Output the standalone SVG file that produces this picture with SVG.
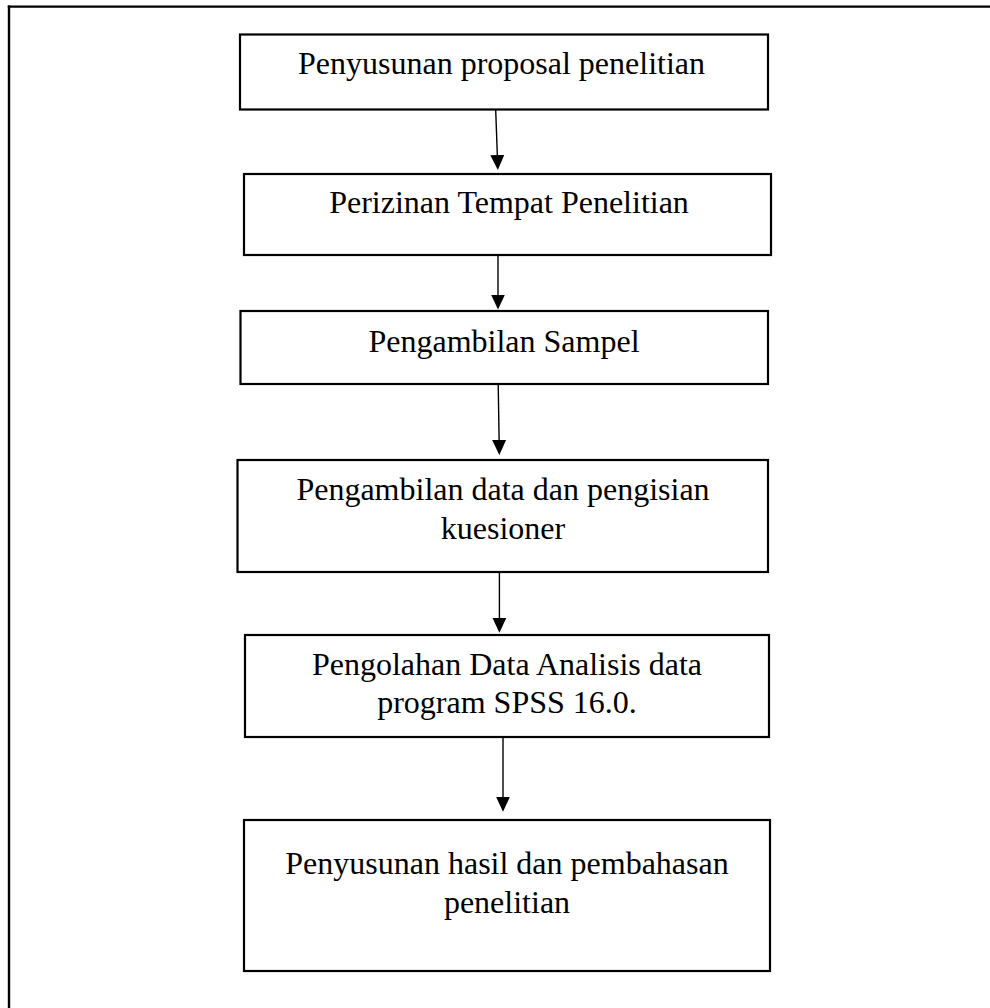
<svg xmlns="http://www.w3.org/2000/svg" width="990" height="1008" viewBox="0 0 990 1008">
<style>
.box{fill:#fff;stroke:#000;stroke-width:2.2}
.lbl{font-family:"Liberation Serif","Times New Roman",serif;font-size:32px;fill:#000;text-anchor:middle}
.conn{stroke:#000;stroke-width:1.4;fill:none}
.frame{stroke:#000;stroke-width:2.4;fill:none}
</style>
<defs>
<marker id="ah" markerUnits="userSpaceOnUse" markerWidth="16" markerHeight="16" refX="5" refY="7" orient="auto" viewBox="0 0 16 14">
<path d="M0,0 L15,7 L0,14 Z" fill="#000"/>
</marker>
</defs>
<rect width="990" height="1008" fill="#fff"/>
<g id="frame">
<line class="frame" x1="7.8" y1="6.6" x2="990" y2="6.6"/>
<line class="frame" x1="9" y1="5.4" x2="9" y2="1008"/>
</g>
<g id="connectors">
<line class="conn" x1="495.7" y1="110" x2="497.5" y2="160" marker-end="url(#ah)"/>
<line class="conn" x1="498" y1="255" x2="498" y2="299.5" marker-end="url(#ah)"/>
<line class="conn" x1="498.2" y1="384" x2="499.2" y2="445" marker-end="url(#ah)"/>
<line class="conn" x1="499.4" y1="572" x2="499.4" y2="622.7" marker-end="url(#ah)"/>
<line class="conn" x1="503" y1="737" x2="503" y2="801.7" marker-end="url(#ah)"/>
</g>
<g id="n1">
<rect class="box" x="240" y="34.5" width="528" height="75"/>
<text class="lbl" x="501.5" y="74">Penyusunan proposal penelitian</text>
</g>
<g id="n2">
<rect class="box" x="244" y="174" width="527" height="81"/>
<text class="lbl" x="509" y="213">Perizinan Tempat Penelitian</text>
</g>
<g id="n3">
<rect class="box" x="240.5" y="311" width="527.5" height="73"/>
<text class="lbl" x="504" y="352">Pengambilan Sampel</text>
</g>
<g id="n4">
<rect class="box" x="237.5" y="460" width="530.5" height="112"/>
<text class="lbl" x="503" y="500">Pengambilan data dan pengisian</text>
<text class="lbl" x="503" y="539">kuesioner</text>
</g>
<g id="n5">
<rect class="box" x="245" y="635" width="524" height="102"/>
<text class="lbl" x="507" y="675">Pengolahan Data Analisis data</text>
<text class="lbl" x="507" y="713">program SPSS 16.0.</text>
</g>
<g id="n6">
<rect class="box" x="244" y="820" width="526" height="151"/>
<text class="lbl" x="507" y="874">Penyusunan hasil dan pembahasan</text>
<text class="lbl" x="507" y="912.5">penelitian</text>
</g>
</svg>
